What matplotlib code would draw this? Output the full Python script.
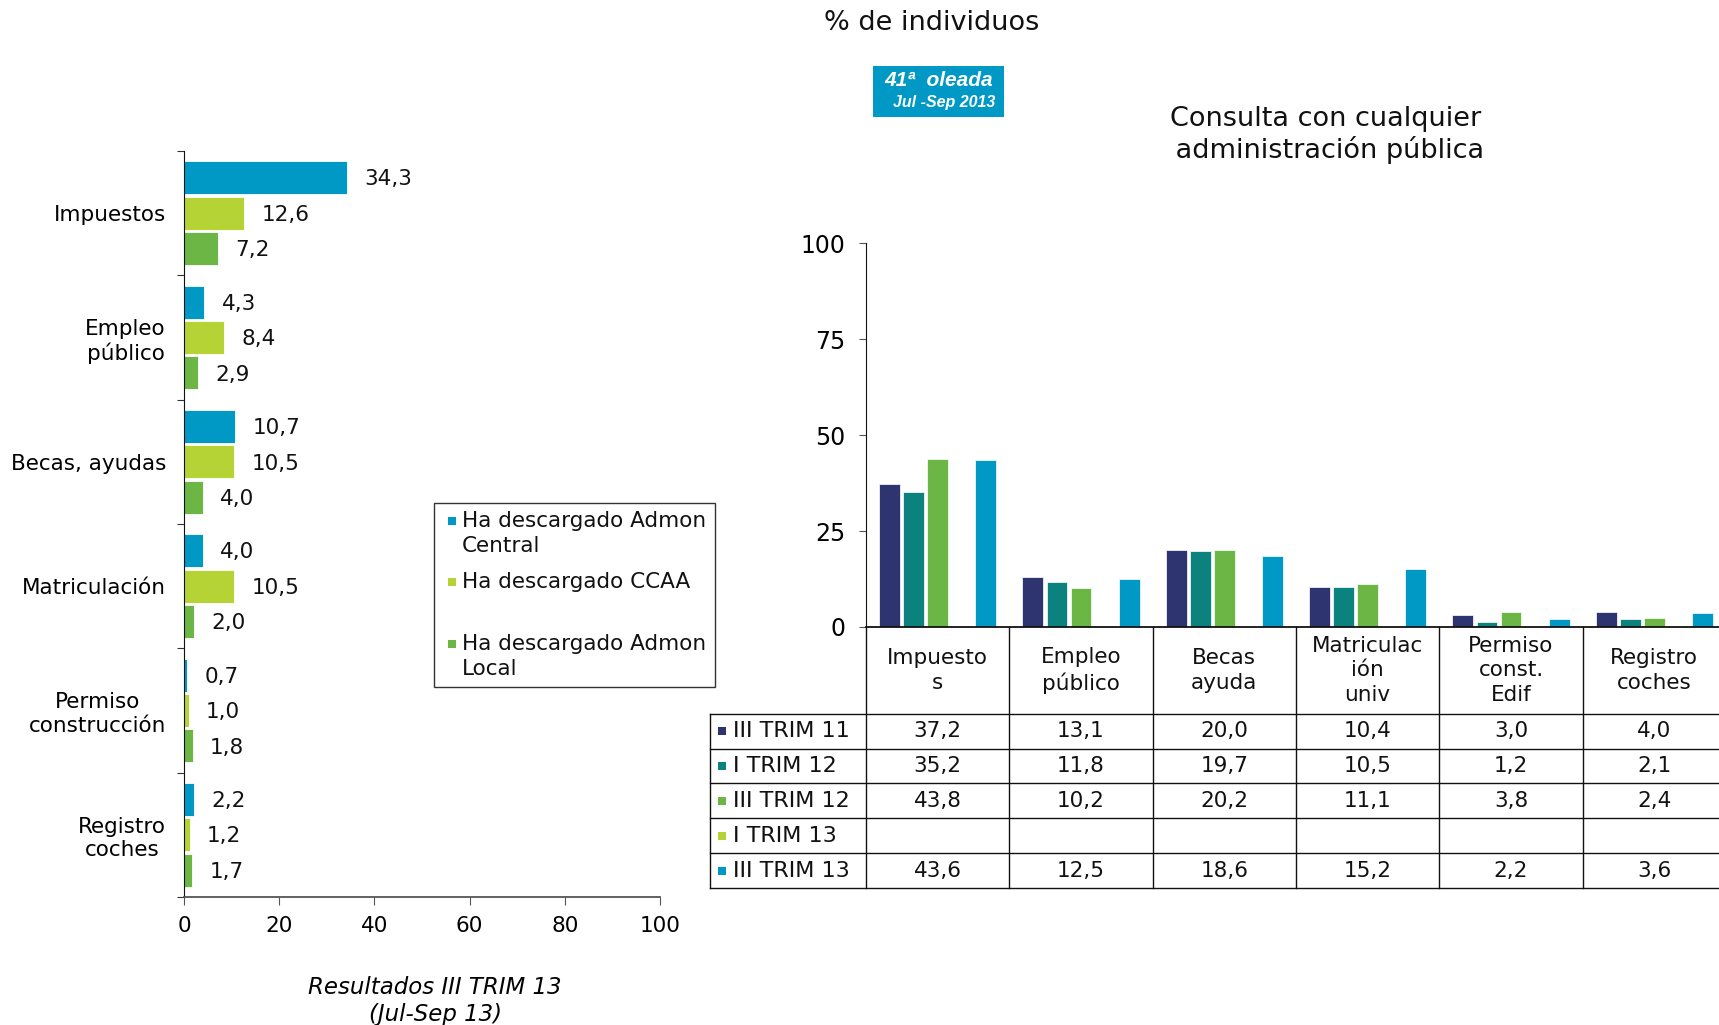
import matplotlib
matplotlib.use("Agg")
import matplotlib.pyplot as plt
import matplotlib.transforms as mtrans
from matplotlib.patches import Rectangle
import numpy as np

plt.rcParams['font.family'] = ['DejaVu Sans']

# ---------------- data: left chart ----------------
left_categories = ["Impuestos", "Empleo\npúblico", "Becas, ayudas", "Matriculación",
                   "Permiso\nconstrucción", "Registro\ncoches"]
left_series = ["Ha descargado Admon\nCentral", "Ha descargado CCAA\n", "Ha descargado Admon\nLocal"]
admon_central = [34.3, 4.3, 10.7, 4.0, 0.7, 2.2]
ccaa = [12.6, 8.4, 10.5, 10.5, 1.0, 1.2]
admon_local = [7.2, 2.9, 4.0, 2.0, 1.8, 1.7]
left_xticks = [0, 20, 40, 60, 80, 100]

# ---------------- data: right chart ----------------
right_categories = ["Impuesto\ns", "Empleo\npúblico", "Becas\nayuda", "Matriculac\nión\nuniv",
                    "Permiso\nconst.\nEdif", "Registro\ncoches"]
periods = ["III TRIM 11", "I TRIM 12", "III TRIM 12", "I TRIM 13", "III TRIM 13"]
iii_trim_11 = [37.2, 13.1, 20.0, 10.4, 3.0, 4.0]
i_trim_12 = [35.2, 11.8, 19.7, 10.5, 1.2, 2.1]
iii_trim_12 = [43.8, 10.2, 20.2, 11.1, 3.8, 2.4]
i_trim_13 = [None, None, None, None, None, None]
iii_trim_13 = [43.6, 12.5, 18.6, 15.2, 2.2, 3.6]
right_yticks = [0, 25, 50, 75, 100]

BLUE = "#0099C6"
YGREEN = "#B5D334"
GREEN = "#6BB645"
NAVY = "#2E3470"
TEAL = "#0B827E"

FS = 15.5


def fmt(v):
    return f"{v:.1f}".replace(".", ",")


W, H = 1719, 1025
fig = plt.figure(figsize=(W / 100, H / 100), dpi=100)


def fx(px):
    return px / W


def fy(py):
    return 1 - py / H


# ================= left chart =================
axL = fig.add_axes([fx(184), fy(897), 476 / W, 746 / H])
yc = np.arange(len(left_categories))
offs = [-0.285, 0.0, 0.285]
cols_left = [BLUE, YGREEN, GREEN]
for vals, off, col in zip([admon_central, ccaa, admon_local], offs, cols_left):
    axL.barh(yc + off, vals, height=0.265, color=col, edgecolor="white", linewidth=0.6)
    for yi, v in zip(yc, vals):
        axL.annotate(fmt(v), (v, yi + off), xytext=(12.5, -1.2), textcoords="offset points",
                     ha="left", va="center", fontsize=FS, color="#111111")

axL.set_xlim(0, 100)
axL.set_ylim(len(left_categories) - 0.5, -0.5)
axL.set_xticks(left_xticks)
axL.set_xticklabels([str(t) for t in left_xticks], fontsize=FS)
axL.set_yticks(np.arange(-0.5, len(left_categories), 1.0))
axL.set_yticklabels([])
axL.set_yticks(yc, minor=True)
axL.set_yticklabels(left_categories, minor=True, fontsize=FS, multialignment="center")
axL.tick_params(axis="y", which="major", direction="out", length=5, color="#333333")
axL.tick_params(axis="y", which="minor", length=0, pad=13)
axL.tick_params(axis="x", direction="out", length=6, pad=8, color="#555555")
for s in ["top", "right"]:
    axL.spines[s].set_visible(False)
axL.spines["left"].set_color("#111111")
axL.spines["bottom"].set_color("#555555")
axL.spines["bottom"].set_linewidth(1.3)

fig.text(fx(435), fy(1001), "Resultados III TRIM 13\n(Jul-Sep 13)", ha="center", va="center",
         fontsize=16.5, style="italic", multialignment="center", linespacing=1.2)

# legend (manual box)
fig.patches.append(Rectangle((fx(434), fy(687)), 281 / W, 184 / H, transform=fig.transFigure,
                             facecolor="white", edgecolor="#333333", linewidth=1.0))
leg_first_line_y = [521, 582, 643.5]
for lab, col, y0 in zip(left_series, cols_left, leg_first_line_y):
    fig.patches.append(Rectangle((fx(448), fy(y0 + 4)), 8 / W, 8 / H, transform=fig.transFigure,
                                 facecolor=col, edgecolor="none"))
    for k, line in enumerate(lab.split("\n")):
        if line:
            fig.text(fx(462), fy(y0 + 25.5 * k), line, ha="left", va="center", fontsize=FS,
                     color="#111111")

# ================= right chart =================
ax_h_px = 627 - 243.4
axR = fig.add_axes([fx(866), fy(627), 860 / W, ax_h_px / H])
cols_right = [NAVY, TEAL, GREEN, YGREEN, BLUE]
series_right = [iii_trim_11, i_trim_12, iii_trim_12, i_trim_13, iii_trim_13]
step, bw = 0.168, 0.145
for k, (vals, col) in enumerate(zip(series_right, cols_right)):
    off = (k - 2) * step
    xs = [i + off for i, v in enumerate(vals) if v is not None]
    vs = [v for v in vals if v is not None]
    if vs:
        axR.bar(xs, vs, width=bw, color=col, edgecolor="white", linewidth=0.5)

trans = mtrans.blended_transform_factory(axR.transData, axR.transAxes)
header_h = 86.6 / ax_h_px
row_h = 34.9 / ax_h_px
x_left = -0.5 - 156 / 143.3
y_header_bot = -header_h
y_bot = -header_h - len(periods) * row_h
lc = "#111111"
# vertical lines
for k in range(len(right_categories) + 1):
    axR.plot([k - 0.5, k - 0.5], [0, y_bot], transform=trans, clip_on=False, color=lc, lw=1.0)
axR.plot([x_left, x_left], [y_header_bot, y_bot], transform=trans, clip_on=False, color=lc, lw=1.0)
# horizontal lines
for r in range(len(periods) + 1):
    yy = y_header_bot - r * row_h
    axR.plot([x_left, len(right_categories) - 0.5], [yy, yy], transform=trans, clip_on=False,
             color=lc, lw=1.0)
# header texts
for i, cat in enumerate(right_categories):
    axR.text(i, -header_h / 2, cat, transform=trans, ha="center", va="center", fontsize=FS,
             multialignment="center", linespacing=1.3, color="#111111")
# rows
for r, (per, vals, col) in enumerate(zip(periods, series_right, cols_right)):
    ymid = y_header_bot - (r + 0.5) * row_h
    axR.add_patch(Rectangle((x_left + 8 / 143.3, ymid - 4 / ax_h_px), 8 / 143.3, 8 / ax_h_px,
                            transform=trans, clip_on=False, facecolor=col, edgecolor="none"))
    axR.text(x_left + 23 / 143.3, ymid, per, transform=trans, ha="left", va="center",
             fontsize=16, color="#111111")
    for i, v in enumerate(vals):
        if v is not None:
            axR.text(i, ymid, fmt(v), transform=trans, ha="center", va="center", fontsize=FS,
                     color="#111111")

axR.set_xlim(-0.5, len(right_categories) - 0.5)
axR.set_ylim(0, 100)
axR.set_xticks([])
axR.set_yticks(right_yticks)
axR.set_yticklabels([str(t) for t in right_yticks], fontsize=17)
axR.tick_params(axis="y", direction="out", length=5, pad=10, color="#555555")
for s in ["top", "right"]:
    axR.spines[s].set_visible(False)
axR.spines["left"].set_color(lc)
axR.spines["bottom"].set_color(lc)
axR.spines["bottom"].set_linewidth(1.3)

# ================= titles & badge =================
fig.text(fx(932), fy(23), "% de individuos", ha="center", va="center", fontsize=19.5, color="#111111")
fig.text(fx(1326), fy(135), "Consulta con cualquier\n administración pública", ha="center",
         va="center", fontsize=19.5, multialignment="center", linespacing=1.15, color="#111111")
fig.patches.append(Rectangle((fx(873), fy(117)), 131 / W, 51 / H, transform=fig.transFigure,
                             facecolor=BLUE, edgecolor="none"))
fig.text(fx(939), fy(81), "41ª  oleada", ha="center", va="center", fontsize=15,
         family=["Liberation Sans", "DejaVu Sans"], weight="bold", style="italic", color="white")
fig.text(fx(944), fy(103), "Jul -Sep 2013", ha="center", va="center", fontsize=11.5,
         family=["Liberation Sans", "DejaVu Sans"], weight="bold", style="italic", color="white")

fig.savefig("out.png", dpi=100)
